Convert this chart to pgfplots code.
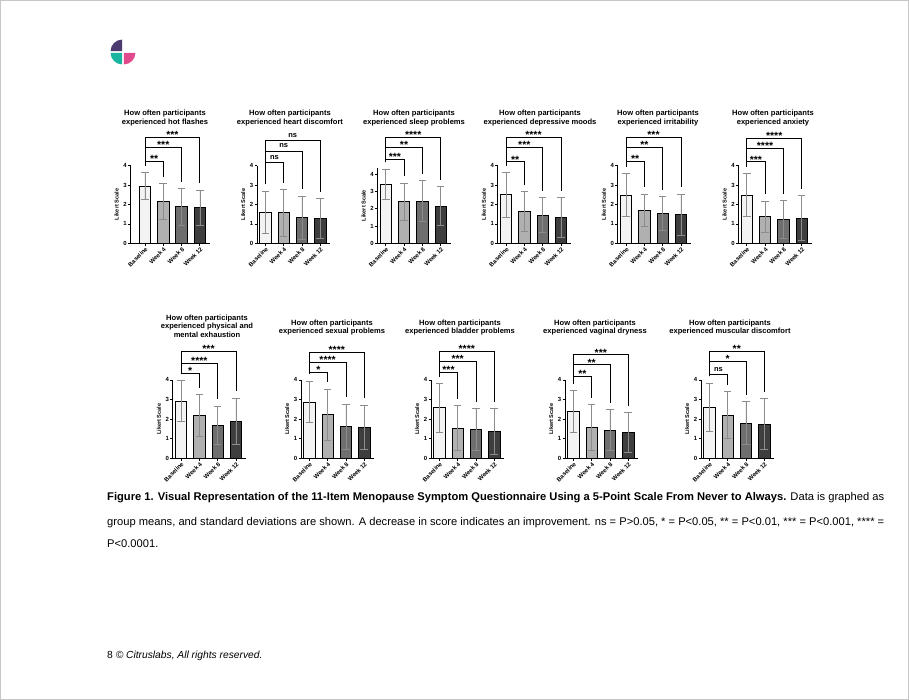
\documentclass[border=0pt]{standalone}
\usepackage{pgfplots}
\pgfplotsset{compat=1.18}
\usepackage{fontspec}
\setmainfont{Liberation Sans}
\definecolor{c0}{HTML}{F3F3F3}
\definecolor{c1}{HTML}{B0B0B0}
\definecolor{c2}{HTML}{6E6E6E}
\definecolor{c3}{HTML}{3E3E3E}
\definecolor{eb}{HTML}{8C8C8C}
\definecolor{lgp}{HTML}{4B3A6E}
\definecolor{lgt}{HTML}{19B5A0}
\definecolor{lgk}{HTML}{E04A8C}
\newcommand\tfont{\fontsize{6}{6.5}\selectfont\bfseries}
\newcommand\lfont{\fontsize{5.6}{6}\selectfont\bfseries}
\newcommand\sfont{\fontsize{10.5}{11}\selectfont\bfseries}
\newcommand\nfont{\fontsize{7.5}{8}\selectfont\bfseries}
\newcommand\hfont{\fontsize{7.6}{8.5}\selectfont\bfseries}
% #1 target x, #2 mid x, #3 level, #4 left leg end, #5 right leg end, #6 label
\newcommand\brk[6]{%
  \draw[line width=0.7pt, black] (axis cs:0,#4) -- (axis cs:0,#3) -- (axis cs:#1,#3) -- (axis cs:#1,#5);
  \node[font=\sfont, anchor=base, inner sep=0pt, yshift=-1.2bp] at (axis cs:#2,#3) {#6};
}
\newcommand\brkns[5]{%
  \draw[line width=0.7pt, black] (axis cs:0,#4) -- (axis cs:0,#3) -- (axis cs:#1,#3) -- (axis cs:#1,#5);
  \node[font=\nfont, anchor=base, inner sep=0pt, yshift=3bp] at (axis cs:#2,#3) {ns};
}
\pgfplotsset{lk/.style={
  scale only axis, width=73.2bp, anchor=south west,
  xmin=-0.45, xmax=3.55, ymin=0,
  axis x line=bottom, axis y line=left,
  axis line style={-, line width=0.7pt},
  every outer x axis line/.append style={-},
  every outer y axis line/.append style={-},
  xtick={0,1,2,3}, xticklabels={Baseline,Week 4,Week 8,Week 12},
  ytick={0,1,2,3,4},
  tick align=outside, major tick length=2.5bp,
  tick style={black, line width=0.7pt},
  /pgf/number format/assume math mode=true,
  x tick label style={rotate=45, anchor=north east, font=\tfont, inner sep=0.5bp},
  y tick label style={font=\tfont, inner sep=1.2bp},
  ylabel={Likert Scale}, ylabel style={font=\lfont},
  clip=false, ybar, bar width=11.5bp, bar shift=0pt,
  every axis plot/.append style={line width=0.7pt, draw=black},
  error bars/y dir=both, error bars/y explicit,
  error bars/error bar style={eb, line width=0.6pt},
  error bars/error mark options={rotate=90, mark size=3.8bp, eb, line width=0.6pt},
}}
\begin{document}
\begin{tikzpicture}
\path[use as bounding box] (0,0) rectangle (909bp,-700bp);
\fill[white] (0,0) rectangle (909bp,-700bp);
\draw[gray!45, line width=1bp] (0.5bp,-0.5bp) rectangle (908.5bp,-699.5bp);
% logo
\fill[lgp] (122.1bp,-51.1bp) -- ++(-11.5bp,0) arc[start angle=180,end angle=90,radius=11.5bp] -- cycle;
\fill[lgt] (122.1bp,-52.9bp) -- ++(-11.5bp,0) arc[start angle=180,end angle=270,radius=11.5bp] -- cycle;
\fill[lgk] (123.9bp,-52.9bp) -- ++(11.5bp,0) arc[start angle=0,end angle=-90,radius=11.5bp] -- cycle;
% titles row 1
\foreach \cx/\tt in {165/experienced hot flashes, 290/experienced heart discomfort, 414/experienced sleep problems, 540/experienced depressive moods, 658/experienced irritability, 773/experienced anxiety}{
  \node[anchor=base, font=\hfont, inner sep=0pt] at (\cx bp,-115.5bp) {How often participants};
  \node[anchor=base, font=\hfont, inner sep=0pt] at (\cx bp,-124bp) {\tt};
}
\foreach \cx/\tt in {332/experienced sexual problems, 460/experienced bladder problems, 595/experienced vaginal dryness, 730/experienced muscular discomfort}{
  \node[anchor=base, font=\hfont, inner sep=0pt] at (\cx bp,-325bp) {How often participants};
  \node[anchor=base, font=\hfont, inner sep=0pt] at (\cx bp,-333.5bp) {\tt};
}
\node[anchor=base, font=\hfont, inner sep=0pt] at (207bp,-320bp) {How often participants};
\node[anchor=base, font=\hfont, inner sep=0pt] at (207bp,-328.5bp) {experienced physical and};
\node[anchor=base, font=\hfont, inner sep=0pt] at (207bp,-337bp) {mental exhaustion};

% 1 hot flashes
\begin{axis}[lk, at={(130.7bp,-243.3bp)}, height=77.6bp, ymax=4, xmin=-0.78, width=79.2bp]
\addplot[fill=c0] coordinates {(0,2.95) +- (0,0.70)};
\addplot[fill=c1] coordinates {(1,2.15) +- (0,0.92)};
\addplot[fill=c2] coordinates {(2,1.88) +- (0,0.93)};
\addplot[fill=c3] coordinates {(3,1.85) +- (0,0.90)};
\brk{1}{0.5}{4.24}{4.00}{3.42}{**}
\brk{2}{1}{4.93}{4.00}{3.16}{***}
\brk{3}{1.5}{5.46}{4.00}{3.10}{***}
\end{axis}
% 2 heart discomfort
\begin{axis}[lk, at={(257.1bp,-243.3bp)}, height=77.6bp, ymax=4]
\addplot[fill=c0] coordinates {(0,1.62) +- (0,1.08)};
\addplot[fill=c1] coordinates {(1,1.57) +- (0,1.19)};
\addplot[fill=c2] coordinates {(2,1.33) +- (0,1.10)};
\addplot[fill=c3] coordinates {(3,1.29) +- (0,1.02)};
\brkns{1}{0.5}{4.15}{3.05}{3.11}
\brkns{2}{1}{4.76}{3.05}{2.78}
\brkns{3}{1.5}{5.29}{3.05}{2.66}
\end{axis}
% 3 sleep problems
\begin{axis}[lk, at={(377.5bp,-243.3bp)}, height=75.3bp, ymax=4.35]
\addplot[fill=c0] coordinates {(0,3.40) +- (0,0.87)};
\addplot[fill=c1] coordinates {(1,2.40) +- (0,1.08)};
\addplot[fill=c2] coordinates {(2,2.45) +- (0,1.18)};
\addplot[fill=c3] coordinates {(3,2.15) +- (0,1.12)};
\brk{1}{0.5}{4.85}{4.67}{3.88}{***}
\brk{2}{1}{5.52}{4.67}{4.03}{**}
\brk{3}{1.5}{6.12}{4.67}{3.67}{****}
\end{axis}
% 4 depressive moods
\begin{axis}[lk, at={(497.8bp,-243.3bp)}, height=77.6bp, ymax=4]
\addplot[fill=c0] coordinates {(0,2.50) +- (0,1.15)};
\addplot[fill=c1] coordinates {(1,1.65) +- (0,1.03)};
\addplot[fill=c2] coordinates {(2,1.45) +- (0,0.90)};
\addplot[fill=c3] coordinates {(3,1.33) +- (0,1.02)};
\brk{1}{0.5}{4.20}{4.00}{3.03}{**}
\brk{2}{1}{4.93}{4.00}{2.70}{***}
\brk{3}{1.5}{5.44}{4.00}{2.70}{****}
\end{axis}
% 5 irritability
\begin{axis}[lk, at={(617.8bp,-243.3bp)}, height=77.6bp, ymax=4]
\addplot[fill=c0] coordinates {(0,2.49) +- (0,1.10)};
\addplot[fill=c1] coordinates {(1,1.70) +- (0,0.83)};
\addplot[fill=c2] coordinates {(2,1.55) +- (0,0.86)};
\addplot[fill=c3] coordinates {(3,1.47) +- (0,1.06)};
\brk{1}{0.5}{4.24}{3.94}{2.88}{**}
\brk{2}{1}{4.93}{3.94}{2.76}{**}
\brk{3}{1.5}{5.44}{3.94}{2.88}{***}
\end{axis}
% 6 anxiety
\begin{axis}[lk, at={(738.5bp,-243.3bp)}, height=77.6bp, ymax=4]
\addplot[fill=c0] coordinates {(0,2.49) +- (0,1.10)};
\addplot[fill=c1] coordinates {(1,1.38) +- (0,0.80)};
\addplot[fill=c2] coordinates {(2,1.22) +- (0,0.98)};
\addplot[fill=c3] coordinates {(3,1.30) +- (0,1.15)};
\brk{1}{0.5}{4.20}{3.94}{2.53}{***}
\brk{2}{1}{4.89}{3.94}{2.55}{****}
\brk{3}{1.5}{5.40}{3.94}{2.80}{****}
\end{axis}
% 7 physical and mental exhaustion
\begin{axis}[lk, at={(172.8bp,-458.3bp)}, height=78.4bp, ymax=4]
\addplot[fill=c0] coordinates {(0,2.93) +- (0,1.06)};
\addplot[fill=c1] coordinates {(1,2.18) +- (0,1.07)};
\addplot[fill=c2] coordinates {(2,1.69) +- (0,0.97)};
\addplot[fill=c3] coordinates {(3,1.88) +- (0,1.18)};
\brk{1}{0.5}{4.34}{4.30}{3.60}{*}
\brk{2}{1}{4.85}{4.30}{3.01}{****}
\brk{3}{1.5}{5.45}{4.30}{3.41}{***}
\end{axis}
% 8 sexual problems
\begin{axis}[lk, at={(301.1bp,-458.3bp)}, height=78.4bp, ymax=4]
\addplot[fill=c0] coordinates {(0,2.88) +- (0,1.06)};
\addplot[fill=c1] coordinates {(1,2.22) +- (0,1.30)};
\addplot[fill=c2] coordinates {(2,1.61) +- (0,1.15)};
\addplot[fill=c3] coordinates {(3,1.59) +- (0,1.13)};
\brk{1}{0.5}{4.39}{4.29}{3.87}{*}
\brk{2}{1}{4.89}{4.29}{3.11}{****}
\brk{3}{1.5}{5.40}{4.29}{3.07}{****}
\end{axis}
% 9 bladder problems
\begin{axis}[lk, at={(431.1bp,-458.3bp)}, height=78.4bp, ymax=4]
\addplot[fill=c0] coordinates {(0,2.58) +- (0,1.24)};
\addplot[fill=c1] coordinates {(1,1.55) +- (0,1.13)};
\addplot[fill=c2] coordinates {(2,1.48) +- (0,1.05)};
\addplot[fill=c3] coordinates {(3,1.36) +- (0,1.18)};
\brk{1}{0.5}{4.39}{4.17}{3.03}{***}
\brk{2}{1}{4.94}{4.17}{2.88}{***}
\brk{3}{1.5}{5.45}{4.17}{2.89}{****}
\end{axis}
% 10 vaginal dryness
\begin{axis}[lk, at={(565.1bp,-458.3bp)}, height=78.4bp, ymax=4]
\addplot[fill=c0] coordinates {(0,2.39) +- (0,1.06)};
\addplot[fill=c1] coordinates {(1,1.58) +- (0,1.17)};
\addplot[fill=c2] coordinates {(2,1.45) +- (0,1.03)};
\addplot[fill=c3] coordinates {(3,1.33) +- (0,1.00)};
\brk{1}{0.5}{4.20}{3.80}{3.10}{**}
\brk{2}{1}{4.77}{3.80}{2.83}{**}
\brk{3}{1.5}{5.28}{3.80}{2.68}{***}
\end{axis}
% 11 muscular discomfort
\begin{axis}[lk, at={(701.1bp,-458.3bp)}, height=78.4bp, ymax=4]
\addplot[fill=c0] coordinates {(0,2.60) +- (0,1.23)};
\addplot[fill=c1] coordinates {(1,2.20) +- (0,1.20)};
\addplot[fill=c2] coordinates {(2,1.79) +- (0,1.10)};
\addplot[fill=c3] coordinates {(3,1.75) +- (0,1.30)};
\brkns{1}{0.5}{4.26}{4.18}{3.75}
\brk{2}{1}{4.94}{4.18}{3.24}{*}
\brk{3}{1.5}{5.45}{4.18}{3.40}{**}
\end{axis}

% caption
\node[anchor=base west, inner sep=0pt, font=\fontsize{11.2}{13}\selectfont] at (107bp,-500.5bp) {\textbf{Figure 1. Visual Representation of the 11-Item Menopause Symptom Questionnaire Using a 5-Point Scale From Never to Always.} Data is graphed as};
\node[anchor=base west, inner sep=0pt, font=\fontsize{11.2}{13}\selectfont] at (107bp,-525bp) {group means, and standard deviations are shown. A decrease in score indicates an improvement. ns = P>0.05, * = P<0.05, ** = P<0.01, *** = P<0.001, **** =};
\node[anchor=base west, inner sep=0pt, font=\fontsize{11.2}{13}\selectfont] at (107bp,-547bp) {P<0.0001.};
% footer
\node[anchor=base west, inner sep=0pt, font=\fontsize{10.3}{12}\selectfont] at (107bp,-658.5bp) {8 \textit{© Citruslabs, All rights reserved.}};
\end{tikzpicture}
\end{document}
